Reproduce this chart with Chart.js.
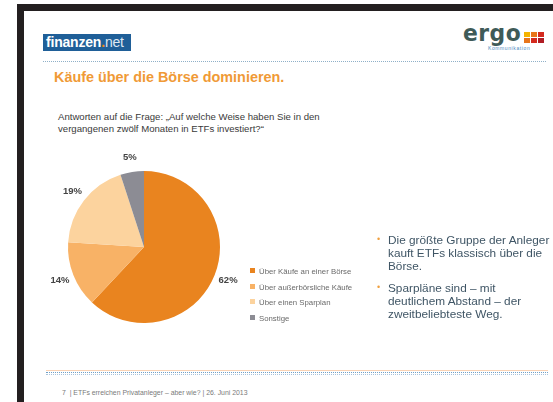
<!DOCTYPE html>
<html>
<head>
<meta charset="utf-8">
<script src="https://cdn.jsdelivr.net/npm/chart.js@4/dist/chart.umd.min.js"></script>
<style>
  html, body { margin:0; padding:0; background:#fff; }
  body { width:553px; height:402px; position:relative; overflow:hidden; font-family:"Liberation Sans", Arial, sans-serif; }
  .abs { position:absolute; }
  #topbar { left:17px; top:4px; width:536px; height:7px; background:#231f20; }
  #leftbar { left:17px; top:4px; width:7px; height:398px; background:#231f20; }
  #logo { left:43px; top:34px; width:88px; height:17px; background:#1f5f98; color:#fff; font-weight:bold; font-size:14px; line-height:17px; padding-left:3px; box-sizing:border-box; letter-spacing:-0.2px; }
  #logo .dot { color:#f08a1c; }
  #logo .net { font-weight:normal; color:#dfe8f2; }
  #ergo { left:463px; top:20px; font-size:23px; font-weight:bold; color:#3f5b58; font-family:"DejaVu Sans", sans-serif; letter-spacing:0.5px; transform:scaleX(0.95); transform-origin:left; }
  #kom { left:488px; top:45px; font-size:5px; color:#4d8ac0; letter-spacing:0.6px; }
  .hdot { height:0; border-top:1px dotted #8fb0c8; }
  #title { left:54px; top:69px; font-size:14.4px; font-weight:bold; color:#f09a36; white-space:nowrap; }
  #question { left:58px; top:111px; font-size:9.6px; line-height:12px; color:#3a3a3a; white-space:nowrap; }
  #legend { left:250px; top:266px; font-size:7.8px; color:#6a6a6a; }
  #legend div { height:15.5px; line-height:12px; white-space:nowrap; }
  #legend span.sw { display:inline-block; width:5px; height:5px; margin-right:4px; vertical-align:1px; }
  #bullets { left:377px; top:234px; font-size:11.8px; line-height:12.8px; color:#3f5565; }
  #bullets .b { position:relative; padding-left:11px; margin-bottom:10px; white-space:nowrap; }
  #bullets .b:before { content:"•"; position:absolute; left:0; top:-1px; color:#f0a040; font-size:9px; }
  #footer { left:62px; top:389px; font-size:6.9px; color:#7a7a7a; white-space:nowrap; }
</style>
</head>
<body>
<div id="topbar" class="abs"></div>
<div id="leftbar" class="abs"></div>
<div id="logo" class="abs">finanzen<span class="dot">.</span><span class="net">net</span></div>
<div id="ergo" class="abs">ergo</div>
<div class="abs" style="left:524px;top:32px;width:22px;height:12px;">
  <div class="abs" style="left:0;top:0;width:6px;height:5px;background:#f4b400"></div>
  <div class="abs" style="left:7px;top:0;width:6px;height:5px;background:#e8751a"></div>
  <div class="abs" style="left:14px;top:0;width:6px;height:5px;background:#d42a1e"></div>
  <div class="abs" style="left:0;top:6px;width:6px;height:5px;background:#e8751a"></div>
  <div class="abs" style="left:7px;top:6px;width:6px;height:5px;background:#d42a1e"></div>
  <div class="abs" style="left:14px;top:6px;width:6px;height:5px;background:#b01c24"></div>
</div>
<div id="kom" class="abs">Kommunikation</div>
<div class="abs hdot" style="left:43px;top:61px;width:503px;"></div>
<div id="title" class="abs">Käufe über die Börse dominieren.</div>
<div id="question" class="abs">Antworten auf die Frage: „Auf welche Weise haben Sie in den<br>vergangenen zwölf Monaten in ETFs investiert?“</div>

<div class="abs" style="left:30px;top:140px;width:260px;height:214px;">
  <canvas id="pie" width="260" height="214"></canvas>
</div>
<div id="legend" class="abs"></div>

<div id="bullets" class="abs">
  <div class="b">Die größte Gruppe der Anleger<br>kauft ETFs klassisch über die<br>Börse.</div>
  <div class="b">Sparpläne sind – mit<br>deutlichem Abstand – der<br>zweitbeliebteste Weg.</div>
</div>

<div class="abs" style="left:46px;top:370px;width:502px;height:0;border-top:1px solid #f9d2b4;"></div>
<div class="abs hdot" style="left:46px;top:372px;width:502px;border-top-color:#6f9fc6;"></div>
<div class="abs hdot" style="left:46px;top:374px;width:502px;border-top-color:#a9c4dc;"></div>
<div id="footer" class="abs">7 &nbsp;| ETFs erreichen Privatanleger – aber wie? | 26. Juni 2013</div>

<script>
const categories = ['Über Käufe an einer Börse', 'Über außerbörsliche Käufe', 'Über einen Sparplan', 'Sonstige'];
const shares = [62, 14, 19, 5];
const valueLabels = ['62%', '14%', '19%', '5%'];
const sliceColors = ['#e9841f', '#f8b266', '#fcd39e', '#8c8c94'];

// legend
const lg = document.getElementById('legend');
categories.forEach((c, i) => {
  const d = document.createElement('div');
  const s = document.createElement('span');
  s.className = 'sw';
  s.style.background = sliceColors[i];
  d.appendChild(s);
  d.appendChild(document.createTextNode(c));
  lg.appendChild(d);
});

const outsideLabels = {
  id: 'outsideLabels',
  afterDatasetsDraw(chart) {
    const ctx = chart.ctx;
    const meta = chart.getDatasetMeta(0);
    ctx.save();
    ctx.font = 'bold 9.5px "Liberation Sans", Arial, sans-serif';
    ctx.fillStyle = '#444';
    ctx.textAlign = 'center';
    ctx.textBaseline = 'middle';
    meta.data.forEach((arc, i) => {
      const p = arc.getProps(['x', 'y', 'startAngle', 'endAngle', 'outerRadius'], true);
      const mid = (p.startAngle + p.endAngle) / 2;
      const r = p.outerRadius * 1.19;
      ctx.fillText(valueLabels[i], p.x + Math.cos(mid) * r, p.y + Math.sin(mid) * r);
    });
    ctx.restore();
  }
};

new Chart(document.getElementById('pie'), {
  type: 'pie',
  data: {
    labels: categories,
    datasets: [{ data: shares, backgroundColor: sliceColors, borderWidth: 0 }]
  },
  options: {
    responsive: false,
    animation: false,
    layout: { padding: { left: 38, right: 70, top: 31, bottom: 31 } },
    plugins: { legend: { display: false }, tooltip: { enabled: false } }
  },
  plugins: [outsideLabels]
});
</script>
</body>
</html>
